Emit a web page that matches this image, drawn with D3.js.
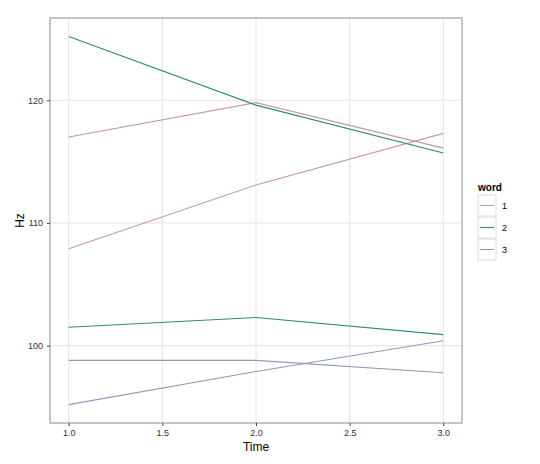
<!DOCTYPE html>
<html lang="en">
    <head>
        <meta charset="utf-8">
        <title>hz_time</title>
        <script type="text/javascript" src="https://cdn.jsdelivr.net/npm/d3@7"></script>
        <style>
            body { margin: 0; background: #fff; }
            text { font-family: "Liberation Sans", Arial, sans-serif; }
        </style>
    </head>

    <body>
        <script type="text/javascript">
        var w = 540;
        var h = 464;

        // panel edges in pixels ("top" is taken by window.top, so prefix them)
        var pLeft = 50, pRight = 462, pTop = 18, pBottom = 423;

        // data
        var times = [1, 2, 3];
        var words = ["1", "2", "3"];
        var wordColours = ["#c39a9f", "#2b8f66", "#8e9cba"];
        var xTicks = [1.0, 1.5, 2.0, 2.5, 3.0];
        var yTicks = [100, 110, 120];

        // one entry per line: which word, and Hz at times 1, 2, 3
        var lineWord = ["1", "1", "2", "2", "3", "3"];
        var lineHz = [
            [117.0, 119.8, 116.1],
            [107.9, 113.1, 117.3],
            [125.2, 119.6, 115.7],
            [101.5, 102.3, 100.9],
            [98.8, 98.8, 97.8],
            [95.2, 97.9, 100.4]
        ];

        var xScale = d3.scaleLinear()
                    .domain([0.9, 3.1])
                    .range([pLeft, pRight]);

        var yScale = d3.scaleLinear()
                    .domain([93.7, 126.7])
                    .range([pBottom, pTop]); // y grows downwards

        var colour = d3.scaleOrdinal()
                    .domain(words)
                    .range(wordColours);

        var svg = d3.select("body")
                    .append("svg")
                    .attr("width", w)
                    .attr("height", h);

        // grid lines
        svg.append("g")
            .selectAll("line")
            .data(xTicks)
            .enter()
            .append("line")
            .attr("x1", function(d){ return xScale(d); })
            .attr("x2", function(d){ return xScale(d); })
            .attr("y1", pTop)
            .attr("y2", pBottom)
            .attr("stroke", "#e3e3e3")
            .attr("stroke-width", 1);

        svg.append("g")
            .selectAll("line")
            .data(yTicks)
            .enter()
            .append("line")
            .attr("x1", pLeft)
            .attr("x2", pRight)
            .attr("y1", function(d){ return yScale(d); })
            .attr("y2", function(d){ return yScale(d); })
            .attr("stroke", "#e3e3e3")
            .attr("stroke-width", 1);

        // the lines
        var lineGen = d3.line()
            .x(function(d, i){ return xScale(times[i]); })
            .y(function(d){ return yScale(d); });

        svg.append("g")
            .selectAll("path")
            .data(lineHz)
            .enter()
            .append("path")
            .attr("d", lineGen)
            .attr("fill", "none")
            .attr("stroke", function(d, i){ return colour(lineWord[i]); })
            .attr("stroke-width", 1.1);

        // panel border
        svg.append("rect")
            .attr("x", pLeft)
            .attr("y", pTop)
            .attr("width", pRight - pLeft)
            .attr("height", pBottom - pTop)
            .attr("fill", "none")
            .attr("stroke", "#8c8c8c")
            .attr("stroke-width", 1);

        // axes
        var xAxis = d3.axisBottom().scale(xScale)
                    .tickValues(xTicks)
                    .tickFormat(d3.format(".1f"))
                    .tickSize(3).tickPadding(4);

        var yAxis = d3.axisLeft().scale(yScale)
                    .tickValues(yTicks)
                    .tickSize(3).tickPadding(4);

        svg.append("g")
            .attr("class", "axis")
            .attr("transform", "translate(0," + pBottom + ")")
            .call(xAxis);

        svg.append("g")
            .attr("class", "axis")
            .attr("transform", "translate(" + pLeft + ",0)")
            .call(yAxis);

        svg.selectAll(".axis .domain").remove();
        svg.selectAll(".axis line").attr("stroke", "#444");
        svg.selectAll(".axis text")
            .attr("fill", "#333")
            .style("font-size", "9px");

        // axis titles
        svg.append("text")
            .attr("x", (pLeft + pRight) / 2)
            .attr("y", 451)
            .attr("text-anchor", "middle")
            .style("font-size", "12px")
            .text("Time");

        svg.append("text")
            .attr("transform", "translate(24," + ((pTop + pBottom) / 2) + ") rotate(-90)")
            .attr("text-anchor", "middle")
            .style("font-size", "12px")
            .text("Hz");

        // legend
        var legend = svg.append("g")
            .attr("transform", "translate(478,0)");

        legend.append("text")
            .attr("x", 0)
            .attr("y", 191)
            .style("font-size", "10px")
            .style("font-weight", "bold")
            .text("word");

        var keys = legend.selectAll("g.key")
            .data(words)
            .enter()
            .append("g")
            .attr("class", "key")
            .attr("transform", function(d, i){ return "translate(0," + (195 + i * 22) + ")"; });

        keys.append("rect")
            .attr("width", 18)
            .attr("height", 21)
            .attr("fill", "#fff")
            .attr("stroke", "#dedede")
            .attr("stroke-width", 1);

        keys.append("line")
            .attr("x1", 2)
            .attr("x2", 16)
            .attr("y1", 10.5)
            .attr("y2", 10.5)
            .attr("stroke", function(d){ return colour(d); })
            .attr("stroke-width", 1.1);

        keys.append("text")
            .attr("x", 24)
            .attr("y", 14)
            .style("font-size", "9px")
            .text(function(d){ return d; });
        </script>
    
    </body>

</html>
